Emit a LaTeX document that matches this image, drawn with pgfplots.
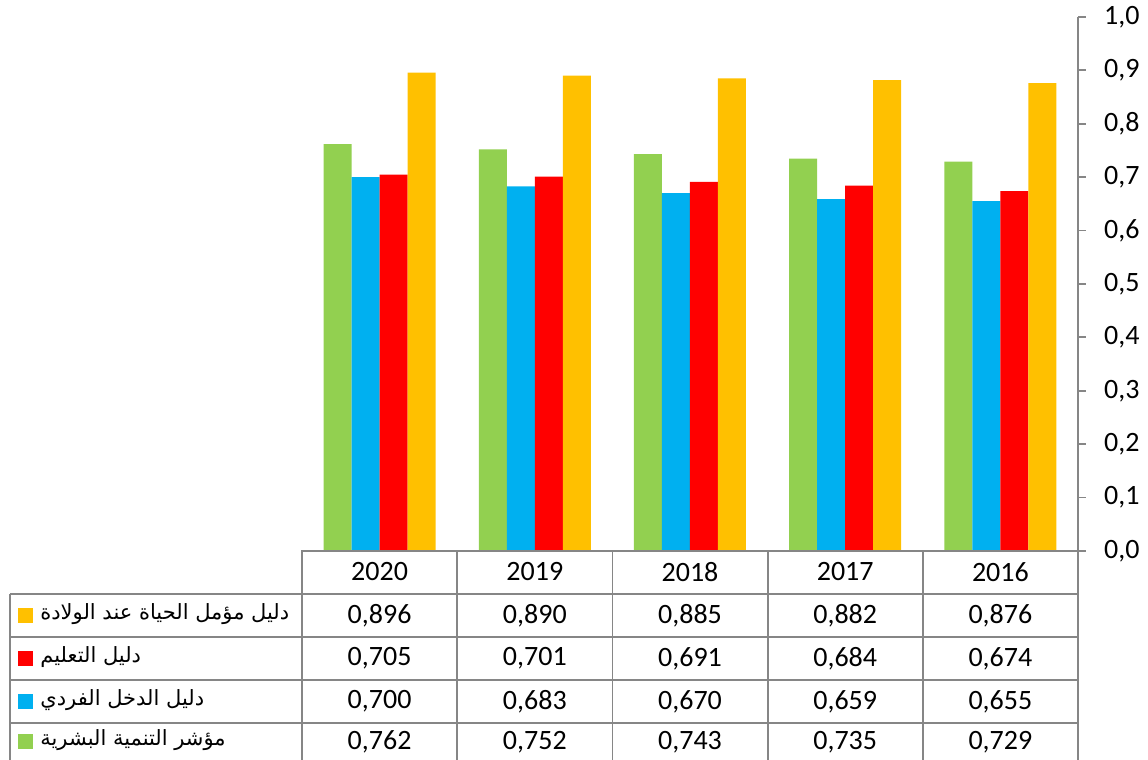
\documentclass[border=0pt]{standalone}
\usepackage{pgfplots}
\pgfplotsset{compat=1.18}
\usepackage{fontspec}
\setmainfont{Carlito}
\newfontfamily\arabicfont[Script=Arabic]{DejaVu Sans}
\TeXXeTstate=1
\definecolor{cgreen}{RGB}{146,208,80}
\definecolor{cblue}{RGB}{0,176,240}
\definecolor{cred}{RGB}{255,0,0}
\definecolor{corange}{RGB}{255,192,0}
\definecolor{gridgray}{RGB}{134,134,134}
\begin{document}
\begin{tikzpicture}
\useasboundingbox (0,0) rectangle (574pt,380pt);
\begin{axis}[
  at={(151pt,104.5pt)}, anchor=south west,
  scale only axis, width=388pt, height=267pt,
  xmin=-0.5, xmax=4.5, ymin=0, ymax=1,
  axis x line=none,
  axis y line*=right,
  y axis line style={draw=gridgray, line width=0.9pt, -},
  ytick={0,0.1,...,1.0},
  tick align=outside,
  major tick length=4pt,
  tick style={draw=gridgray, line width=0.9pt},
  yticklabel style={font=\fontsize{14}{16}\selectfont, anchor=west, xshift=5.5pt,
    /pgf/number format/.cd, use comma, fixed, fixed zerofill, precision=1, assume math mode=true},
  ybar=0pt, bar width=14pt,
  clip=false,
]
\addplot[fill=cgreen, draw=none] coordinates {(0,0.762) (1,0.752) (2,0.743) (3,0.735) (4,0.729)};
\addplot[fill=cblue, draw=none] coordinates {(0,0.700) (1,0.683) (2,0.670) (3,0.659) (4,0.655)};
\addplot[fill=cred, draw=none] coordinates {(0,0.705) (1,0.701) (2,0.691) (3,0.684) (4,0.674)};
\addplot[fill=corange, draw=none] coordinates {(0,0.896) (1,0.890) (2,0.885) (3,0.882) (4,0.876)};
\end{axis}
% table grid
\begin{scope}[draw=gridgray, line width=0.9pt]
\draw (150.5pt,104.5pt) -- (539pt,104.5pt);
\foreach \y in {83,61.5,40,18.5} \draw (5pt,\y pt) -- (539pt,\y pt);
\foreach \x in {151,228.6,306.2,383.8,461.4,539} \draw (\x pt,104.5pt) -- (\x pt,0pt);
\draw (5pt,83pt) -- (5pt,0pt);
\end{scope}
% table text
\begin{scope}[font=\fontsize{14}{16}\selectfont]
\node at (189.8pt,94pt) {2020};
\node at (267.4pt,94pt) {2019};
\node at (345pt,94pt) {2018};
\node at (422.6pt,94pt) {2017};
\node at (500.2pt,94pt) {2016};
% orange row
\node at (189.8pt,72.25pt) {0,896};
\node at (267.4pt,72.25pt) {0,890};
\node at (345pt,72.25pt) {0,885};
\node at (422.6pt,72.25pt) {0,882};
\node at (500.2pt,72.25pt) {0,876};
% red row
\node at (189.8pt,50.75pt) {0,705};
\node at (267.4pt,50.75pt) {0,701};
\node at (345pt,50.75pt) {0,691};
\node at (422.6pt,50.75pt) {0,684};
\node at (500.2pt,50.75pt) {0,674};
% blue row
\node at (189.8pt,29.25pt) {0,700};
\node at (267.4pt,29.25pt) {0,683};
\node at (345pt,29.25pt) {0,670};
\node at (422.6pt,29.25pt) {0,659};
\node at (500.2pt,29.25pt) {0,655};
% green row
\node at (189.8pt,9pt) {0,762};
\node at (267.4pt,9pt) {0,752};
\node at (345pt,9pt) {0,743};
\node at (422.6pt,9pt) {0,735};
\node at (500.2pt,9pt) {0,729};
\end{scope}
% legend column
\begin{scope}[font=\arabicfont\fontsize{10.5}{12.5}\selectfont]
\fill[corange] (9pt,68.5pt) rectangle (16.5pt,76pt);
\node[anchor=west, inner sep=0pt] at (20pt,73pt) {\beginR دليل مؤمل الحياة عند الولادة\endR};
\fill[cred] (9pt,47pt) rectangle (16.5pt,54.5pt);
\node[anchor=west, inner sep=0pt] at (20pt,51.5pt) {\beginR دليل التعليم\endR};
\fill[cblue] (9pt,25.5pt) rectangle (16.5pt,33pt);
\node[anchor=west, inner sep=0pt] at (20pt,30pt) {\beginR دليل الدخل الفردي\endR};
\fill[cgreen] (9pt,5.5pt) rectangle (16.5pt,13pt);
\node[anchor=west, inner sep=0pt] at (20pt,10pt) {\beginR مؤشر التنمية البشرية\endR};
\end{scope}
\end{tikzpicture}
\end{document}
